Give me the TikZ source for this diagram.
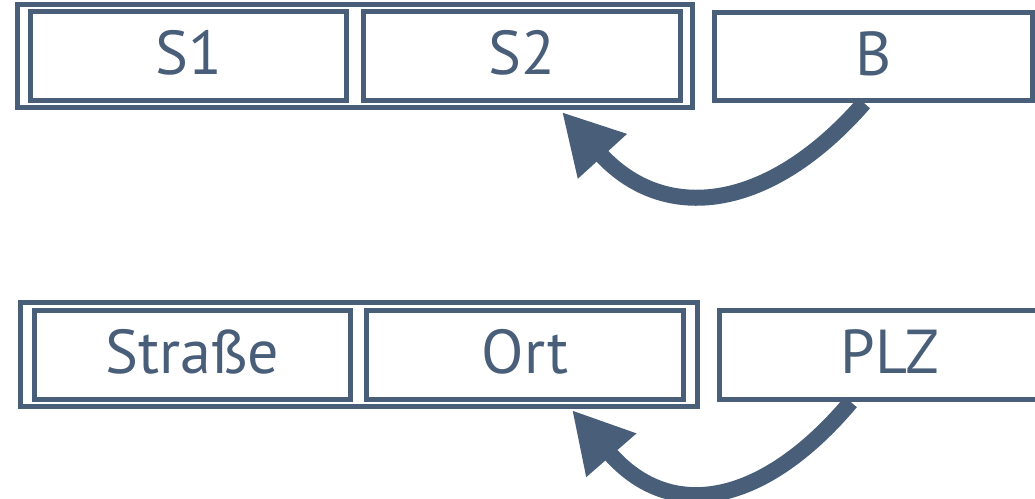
\documentclass[tikz,border=0pt]{standalone}
\usepackage{fontspec}
\setmainfont{PT Sans}
\usetikzlibrary{arrows.meta,calc}
\definecolor{slate}{RGB}{73,94,121}
\begin{document}
\begin{tikzpicture}[x=1pt,y=-1pt,
  frame/.style={draw=slate,line width=5pt,inner sep=0pt},
  cell/.style={frame,text=slate,font=\fontsize{62}{62}\selectfont,text height=44pt,text depth=7pt},
  arr/.style={draw=slate,line width=16pt,-{Triangle[length=60pt,width=62pt]}}]
\useasboundingbox (0,0) rectangle (1035,498);
\clip (0,0) rectangle (1035,498);
% top row
\node[frame,minimum width=675pt,minimum height=103pt] (F1) at (355,56) {};
\node[cell,minimum width=316pt,minimum height=89pt] (S1) at (188.5,56) {S1};
\node[cell,minimum width=317pt,minimum height=89pt] (S2) at (522,56) {S2};
\node[cell,minimum width=318pt,minimum height=88pt] (B) at (873.5,56.5) {B};
% bottom row
\node[frame,minimum width=677pt,minimum height=104pt] (F2) at (359,354.5) {};
\node[cell,minimum width=316pt,minimum height=89pt] (Str) at (192.5,355) {Straße};
\node[cell,minimum width=317pt,minimum height=89pt] (Ort) at (525,355) {Ort};
\node[cell,minimum width=340.5pt,minimum height=89pt] (PLZ) at (889.75,355) {PLZ};
% arrows
\draw[arr] ([xshift=-9.5pt]B.south) .. controls +(-94,108) and +(103,113) .. ($(S2.south)+(40,9)$);
\draw[arr] ([xshift=-39pt]PLZ.south) .. controls +(-85,101) and +(100,115) .. ($(Ort.south)+(47,8)$);
\end{tikzpicture}
\end{document}
